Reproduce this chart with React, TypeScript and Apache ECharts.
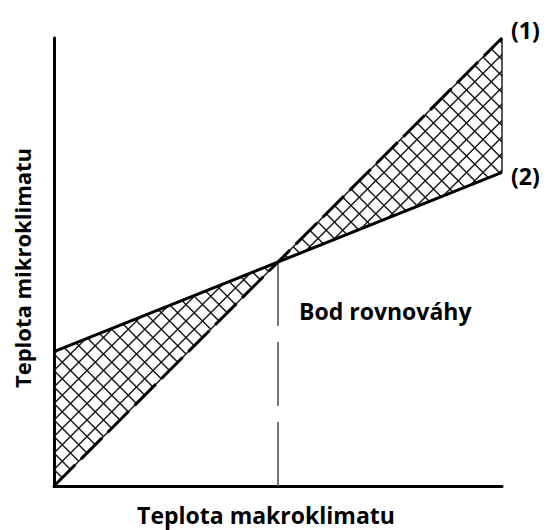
import React, { useEffect, useRef } from "react";
import * as echarts from "echarts";

// ---- data (diagram in arbitrary temperature units) ----
const xRange = [0, 10];
const line1Values = [0, 10]; // curve (1): y at x = 0 and x = 10
const line2Values = [3, 7]; // curve (2): y at x = 0 and x = 10
const seriesLabels = ["(1)", "(2)"];
const equilibriumLabel = "Bod rovnováhy";
const xTitle = "Teplota makroklimatu";
const yTitle = "Teplota mikroklimatu";

const FONT = "'Open Sans', 'DejaVu Sans', sans-serif";

// crossing point of the two straight lines
const m1 = (line1Values[1] - line1Values[0]) / (xRange[1] - xRange[0]);
const m2 = (line2Values[1] - line2Values[0]) / (xRange[1] - xRange[0]);
const crossX = xRange[0] + (line2Values[0] - line1Values[0]) / (m1 - m2);
const crossY = line1Values[0] + m1 * (crossX - xRange[0]);

type P = number[];

function clipLine(p0: P, d: P, poly: P[]): P[] | null {
  const ts: number[] = [];
  for (let i = 0; i < poly.length; i++) {
    const a = poly[i];
    const b = poly[(i + 1) % poly.length];
    const ex = b[0] - a[0];
    const ey = b[1] - a[1];
    const den = d[0] * ey - d[1] * ex;
    if (Math.abs(den) < 1e-9) continue;
    const wx = a[0] - p0[0];
    const wy = a[1] - p0[1];
    const t = (wx * ey - wy * ex) / den;
    const u = (wx * d[1] - wy * d[0]) / den;
    if (u >= -1e-9 && u <= 1 + 1e-9) ts.push(t);
  }
  if (ts.length < 2) return null;
  const t0 = Math.min(...ts);
  const t1 = Math.max(...ts);
  if (t1 - t0 < 0.5) return null;
  return [
    [p0[0] + d[0] * t0, p0[1] + d[1] * t0],
    [p0[0] + d[0] * t1, p0[1] + d[1] * t1],
  ];
}

function hatch(poly: P[], anchor: P, step: number, style: any): any[] {
  const out: any[] = [];
  const fams = [
    { d: [1, 1], f: (p: P) => p[1] - p[0], a: anchor[1] - anchor[0] },
    { d: [1, -1], f: (p: P) => p[1] + p[0], a: anchor[1] + anchor[0] },
  ];
  for (const fam of fams) {
    const vals = poly.map(fam.f);
    const lo = Math.min(...vals);
    const hi = Math.max(...vals);
    let c = fam.a + Math.ceil((lo - fam.a) / step) * step;
    for (; c <= hi; c += step) {
      const seg = clipLine([0, c], fam.d, poly);
      if (!seg) continue;
      out.push({
        type: "line",
        shape: { x1: seg[0][0], y1: seg[0][1], x2: seg[1][0], y2: seg[1][1] },
        style,
        silent: true,
      });
    }
  }
  return out;
}

export default function App() {
  const ref = useRef<HTMLDivElement>(null);

  useEffect(() => {
    if (!ref.current) return;
    const chart = echarts.init(ref.current, null, { renderer: "svg" });

    const labelStyle = {
      show: true,
      fontFamily: FONT,
      fontWeight: "bold",
      fontSize: 23,
      color: "#000",
      distance: 9,
    };

    const option: any = {
      animation: false,
      backgroundColor: "#ffffff",
      grid: { left: 54, right: 45, top: 38, bottom: 44 },
      xAxis: {
        type: "value",
        min: xRange[0],
        max: xRange[1],
        axisLine: { show: true, onZero: false, lineStyle: { color: "#000", width: 3 } },
        axisTick: { show: false },
        axisLabel: { show: false },
        splitLine: { show: false },
      },
      yAxis: {
        type: "value",
        min: xRange[0],
        max: xRange[1],
        axisLine: { show: true, onZero: false, lineStyle: { color: "#000", width: 3 } },
        axisTick: { show: false },
        axisLabel: { show: false },
        splitLine: { show: false },
      },
      series: [
        {
          type: "custom",
          coordinateSystem: "cartesian2d",
          clip: false,
          z: 1,
          data: [[crossX, crossY]],
          renderItem: (_params: any, api: any) => {
            const o = api.coord([xRange[0], line1Values[0]]);
            const b = api.coord([xRange[0], line2Values[0]]);
            const c = api.coord([crossX, crossY]);
            const d = api.coord([xRange[1], line1Values[1]]);
            const e = api.coord([xRange[1], line2Values[1]]);
            const style = { stroke: "#151515", lineWidth: 1.4, fill: null };
            const children = [
              ...hatch([o, b, c], o, 16.5, style),
              ...hatch([c, d, e], o, 16.5, style),
            ];
            return { type: "group", children };
          },
        },
        {
          type: "line",
          name: "(1)",
          z: 3,
          symbol: "none",
          data: [
            [xRange[0], line1Values[0]],
            [xRange[1], line1Values[1]],
          ],
          lineStyle: { color: "#000", width: 3, type: [30, 8], cap: "butt" },
          endLabel: { ...labelStyle, formatter: seriesLabels[0], offset: [0, -8] },
        },
        {
          type: "line",
          name: "(2)",
          z: 3,
          symbol: "none",
          data: [
            [xRange[0], line2Values[0]],
            [xRange[1], line2Values[1]],
          ],
          lineStyle: { color: "#000", width: 3 },
          endLabel: { ...labelStyle, formatter: seriesLabels[1], offset: [0, 4] },
        },
        {
          type: "line",
          z: 2,
          symbol: "none",
          data: [
            [xRange[1], line2Values[1]],
            [xRange[1], line1Values[1]],
          ],
          lineStyle: { color: "#222", width: 1.5 },
        },
        {
          type: "line",
          z: 2,
          symbol: "none",
          data: [
            [crossX, xRange[0]],
            [crossX, crossY],
          ],
          lineStyle: { color: "#555", width: 1.6, type: [64, 16], cap: "butt" },
        },
      ],
      graphic: [
        {
          type: "text",
          x: 299,
          y: 311,
          style: {
            text: equilibriumLabel,
            font: `bold 23px ${FONT}`,
            fill: "#000",
            textAlign: "left",
            textVerticalAlign: "middle",
          },
        },
        {
          type: "text",
          x: 266,
          y: 515,
          style: {
            text: xTitle,
            font: `bold 23px ${FONT}`,
            fill: "#000",
            textAlign: "center",
            textVerticalAlign: "middle",
          },
        },
        {
          type: "text",
          x: 22,
          y: 268,
          rotation: Math.PI / 2,
          style: {
            text: yTitle,
            font: `bold 22px ${FONT}`,
            fill: "#000",
            textAlign: "center",
            textVerticalAlign: "middle",
          },
        },
      ],
    };

    chart.setOption(option);
    return () => chart.dispose();
  }, []);

  return (
    <div
      ref={ref}
      style={{ position: "fixed", left: 0, top: 0, width: 547, height: 530 }}
    />
  );
}
